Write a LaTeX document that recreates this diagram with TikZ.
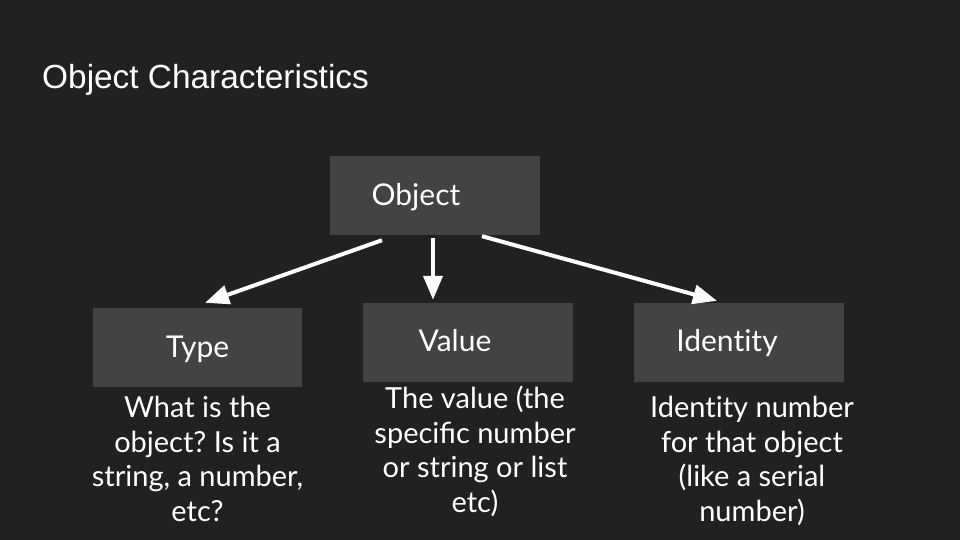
\documentclass[tikz,border=0pt]{standalone}
\usepackage{fontspec}
\setmainfont{Lato}
\newfontfamily\nolig{Lato}[RawFeature={-liga;-calt;-clig}]
\newfontfamily\titlefont{Liberation Sans}
\usetikzlibrary{arrows.meta,calc}
\frenchspacing
\definecolor{bgc}{HTML}{212121}
\definecolor{boxc}{HTML}{434343}
\tikzset{
  box/.style={fill=boxc, draw=none, minimum width=210pt, minimum height=79pt, inner sep=0pt},
  lbl/.style={text=white, anchor=base, inner sep=0pt, font=\fontsize{30}{34.5}\selectfont},
  desc/.style={text=white, anchor=base, inner sep=0pt, align=center, font=\fontsize{29}{34.5}\selectfont},
  conn/.style={draw=white, line width=4pt, -{Triangle[length=24pt,width=19pt]}}
}
\begin{document}
\begin{tikzpicture}[x=1pt,y=-1pt]
\fill[bgc] (0,0) rectangle (960,540);
\useasboundingbox (0,0) rectangle (960,540);
\node[text=white, anchor=base west, inner sep=0pt, font=\titlefont\fontsize{33.4}{40}\selectfont] (title) at (42,89) {Object Characteristics};
\node[box] (obj) at (435,195.5) {};
\node[box, minimum width=209pt] (type) at (197.5,347.5) {};
\node[box] (val) at (468,342.5) {};
\node[box] (ident) at (739,342.5) {};
\node[lbl] (objl) at (416,205) {Object};
\node[lbl] (typel) at (197.5,357) {Type};
\node[lbl] (vall) at (455,351) {Value};
\node[lbl] (identl) at (727,351) {\nolig Identity};
\node[desc] (typed) at (197.5,521) {What is the\\object? Is it a\\string, a number,\\etc?};
\node[desc] (vald) at (475,512) {The value (the\\specific number\\or string or list\\etc)};
\node[desc] (identd) at (752,521) {\nolig Identity number\\\nolig for that object\\\nolig (like a serial\\\nolig number)};
\coordinate (s1) at ($(obj.south)+(-53,5)$);
\coordinate (s2) at ($(obj.south)+(-2,3)$);
\coordinate (s3) at ($(obj.south)+(47,1)$);
\coordinate (e1) at ($(type.north)+(7.5,-5)$);
\coordinate (e2) at ($(val.north)+(-35,-3)$);
\coordinate (e3) at ($(ident.north)+(-22,-2)$);
\draw[conn] (s1) -- (e1);
\draw[conn] (s2) -- (e2);
\draw[conn] (s3) -- (e3);
\end{tikzpicture}
\end{document}
